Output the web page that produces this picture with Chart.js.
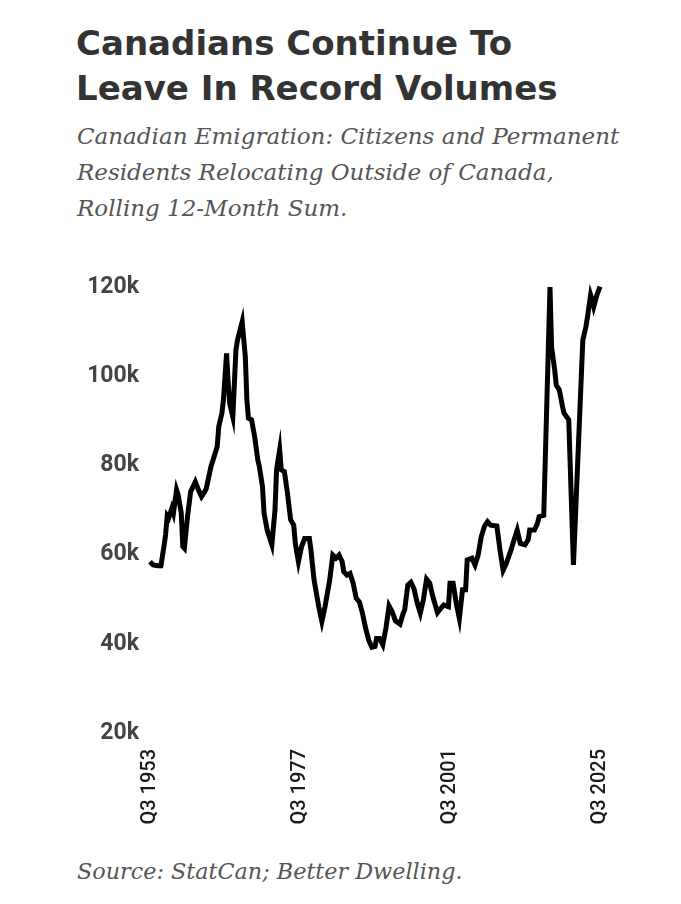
<!DOCTYPE html>
<html>
<head>
<meta charset="utf-8">
<script src="https://cdn.jsdelivr.net/npm/chart.js@4"></script>
<style>
    html, body { margin: 0; padding: 0; background: #fff; }
    body { width: 681px; height: 904px; position: relative; overflow: hidden; }
    .title {
        position: absolute; left: 76px; top: 21px;
        font-family: "DejaVu Sans", sans-serif; font-weight: bold;
        font-size: 34px; line-height: 45px; color: #333;
    }
    .subtitle {
        position: absolute; left: 77px; top: 118px;
        font-family: "DejaVu Serif", serif; font-style: italic;
        font-size: 23px; line-height: 36px; color: #555;
    }
    .source {
        position: absolute; left: 77px; top: 853px;
        font-family: "DejaVu Serif", serif; font-style: italic;
        font-size: 22.3px; line-height: 36px; color: #555;
    }
    #wrap { position: absolute; left: 0; top: 250px; width: 681px; height: 600px; }
</style>
</head>
<body>
<div class="title">Canadians Continue To<br>Leave In Record Volumes</div>
<div class="subtitle">Canadian Emigration: Citizens and Permanent<br>Residents Relocating Outside of Canada,<br>Rolling 12-Month Sum.</div>
<div id="wrap"><canvas id="emigration-chart" width="681" height="600"></canvas></div>
<div class="source">Source: StatCan; Better Dwelling.</div>

<script>
// quarters counted from Q3 1953 (0) to Q3 2025 (288)
const quarterIdx = [
    0, 2, 5, 7, 9, 10, 11, 12, 14, 15, 17, 18, 20, 21, 22, 24, 26, 29, 31, 33,
    35, 36, 39, 43, 44, 46, 47, 49, 50, 51, 53, 55, 56, 59, 61, 62, 63, 65, 67, 69,
    70, 72, 73, 75, 78, 80, 81, 83, 84, 86, 88, 90, 92, 93, 95, 97, 99, 102, 103, 105,
    108, 110, 112, 115, 117, 119, 121, 123, 124, 126, 128, 130, 132, 134, 136, 138, 140, 142, 144, 145,
    147, 149, 151, 153, 155, 157, 160, 162, 163, 165, 167, 169, 171, 173, 175, 177, 179, 181, 184, 186,
    188, 191, 192, 194, 196, 198, 200, 202, 203, 206, 208, 210, 212, 214, 216, 218, 222, 224, 226, 228,
    231, 233, 235, 237, 240, 242, 243, 246, 248, 249, 252, 256, 257, 259, 260, 262, 264, 265, 268, 271,
    277, 279, 280, 282, 283, 284, 286, 288
];

// rolling 12-month emigrants, thousands
const emigrants = [
    58.4, 57.7, 57.5, 57.5, 62.0, 64.5, 68.7, 68.2, 70.4, 69.3, 74.5, 73.4, 69.3, 61.8, 61.4, 68.5, 74.1, 76.3, 74.5, 73.0,
    74.1, 74.8, 79.7, 84.2, 88.7, 91.7, 94.7, 105.1, 98.8, 93.9, 90.9, 105.9, 108.1, 112.2, 104.4, 94.7, 90.6, 90.2, 86.4, 81.2,
    79.7, 75.2, 69.3, 65.5, 62.2, 70.0, 79.0, 83.5, 79.0, 78.6, 73.7, 67.8, 66.6, 62.5, 58.4, 61.8, 63.6, 63.6, 61.0, 54.3,
    48.3, 45.0, 48.3, 54.3, 59.9, 59.2, 59.9, 58.4, 56.2, 55.4, 55.8, 53.6, 50.2, 49.4, 46.8, 43.5, 40.8, 39.2, 39.4, 41.2,
    41.2, 39.8, 43.5, 48.5, 47.2, 45.2, 44.4, 46.8, 47.6, 53.2, 53.8, 52.3, 49.2, 46.9, 50.0, 54.5, 53.6, 50.6, 47.0, 47.9,
    48.7, 48.3, 53.6, 53.6, 49.1, 45.7, 52.1, 52.1, 58.8, 59.2, 57.7, 59.9, 64.0, 66.3, 67.4, 66.6, 66.4, 61.0, 56.5, 58.0,
    61.0, 63.3, 65.5, 62.5, 62.2, 63.3, 65.5, 65.5, 67.0, 68.5, 68.8, 120.0, 106.6, 101.4, 98.0, 96.9, 93.2, 91.7, 90.2, 57.7,
    108.1, 111.1, 113.3, 118.2, 117.1, 115.6, 118.2, 120.1
];

const yTicks = [20, 40, 60, 80, 100, 120];
const xTicks = ['Q3 1953', 'Q3 1977', 'Q3 2001', 'Q3 2025'];

const ctx = document.getElementById('emigration-chart').getContext('2d');

new Chart(ctx, {
    type: 'line',
    data: {
        datasets: [{
            data: quarterIdx.map((q, i) => ({ x: q, y: emigrants[i] })),
            borderColor: '#000',
            borderWidth: 5,
            pointRadius: 0,
            tension: 0,
            clip: false
        }]
    },
    options: {
        responsive: false,
        animation: false,
        layout: {
            padding: { left: 50, right: 81, top: 37, bottom: 17 }
        },
        plugins: {
            legend: { display: false },
            tooltip: { enabled: false }
        },
        scales: {
            x: {
                type: 'linear',
                min: 0,
                max: 288,
                grid: { display: false },
                border: { display: false },
                afterFit: function(scale) { scale.height = 100; },
                afterBuildTicks: function(scale) {
                    scale.ticks = xTicks.map((t, i) => ({ value: i * 96 }));
                },
                ticks: {
                    color: '#1a1a1a',
                    padding: 8,
                    minRotation: 90,
                    maxRotation: 90,
                    font: { family: 'Roboto', size: 20, weight: '500' },
                    callback: function(value) {
                        return xTicks[Math.round(value / 96)];
                    }
                }
            },
            y: {
                min: 20,
                max: 120,
                grid: { display: false },
                border: { display: false },
                afterFit: function(scale) { scale.width = 100; },
                afterBuildTicks: function(scale) {
                    scale.ticks = yTicks.map(v => ({ value: v }));
                },
                ticks: {
                    color: '#444',
                    padding: 3,
                    font: { family: 'Roboto', size: 23, weight: 'bold' },
                    callback: function(value) {
                        return value + 'k';
                    }
                }
            }
        }
    }
});
</script>
</body>
</html>
